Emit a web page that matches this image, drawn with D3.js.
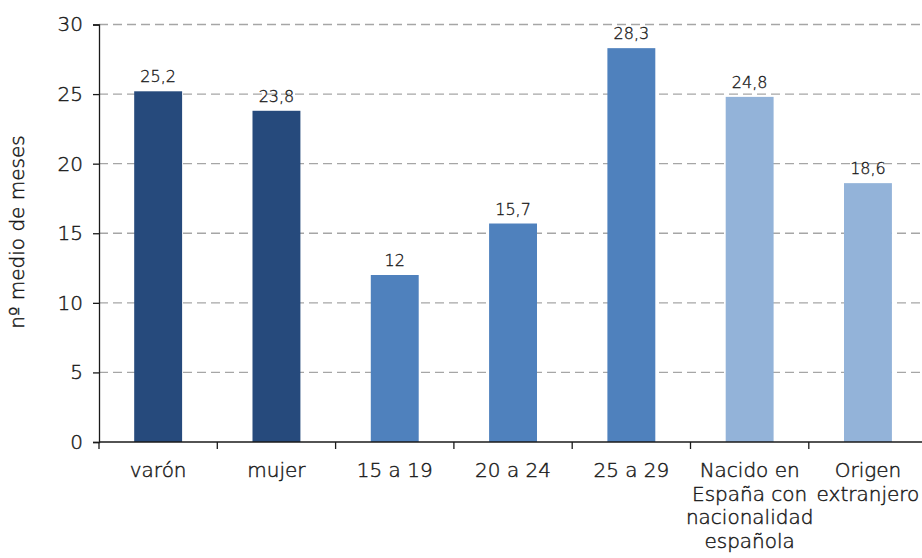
<!DOCTYPE html>
<html><head><meta charset="utf-8">
<script src="https://cdn.jsdelivr.net/npm/d3@7"></script>
<style>body{margin:0;background:#fff}svg{display:block}text{font-family:"DejaVu Sans",sans-serif;fill:#1a1a1a;font-weight:300;stroke:#1a1a1a;stroke-width:0.45px}</style>
</head><body>
<svg id="c" width="922" height="558"></svg>
<script>
const categories = [["varón"],["mujer"],["15 a 19"],["20 a 24"],["25 a 29"],["Nacido en","España con","nacionalidad","española"],["Origen","extranjero"]];
const values = [25.2, 23.8, 12, 15.7, 28.3, 24.8, 18.6];
const labels = ["25,2","23,8","12","15,7","28,3","24,8","18,6"];
const groups = ["sexo","sexo","edad","edad","edad","origen","origen"];
const yTicks = [0,5,10,15,20,25,30];
const colors = {sexo:"#264a7c", edad:"#4f81bd", origen:"#93b3d9"};

const svg = d3.select("#c");
const x0 = 99, slot = 118.3;
const x = d3.scaleBand().domain(d3.range(values.length)).range([x0, x0 + slot*values.length]).paddingInner(0.595).paddingOuter(0.2975);
const y = d3.scaleLinear().domain([0,30]).range([442,24.5]);

// gridlines
svg.append("g").selectAll("line").data(yTicks.filter(d=>d>0)).join("line")
  .attr("x1",x0).attr("x2",922).attr("y1",d=>y(d)).attr("y2",d=>y(d))
  .attr("stroke","#a6a6a6").attr("stroke-width",1.3).attr("stroke-dasharray","9,5");

// bars
svg.append("g").selectAll("rect").data(values).join("rect")
  .attr("x",(d,i)=>x(i)).attr("width",x.bandwidth())
  .attr("y",d=>y(d)).attr("height",d=>y(0)-y(d))
  .attr("fill",(d,i)=>colors[groups[i]]);

// value labels
svg.append("g").selectAll("text").data(values).join("text")
  .attr("x",(d,i)=>x(i)+x.bandwidth()/2).attr("y",d=>y(d)-9)
  .attr("text-anchor","middle").attr("font-size",16).style("stroke-width","0.35px").text((d,i)=>labels[i]);

// y axis
const ya = svg.append("g").attr("transform",`translate(${x0},0)`)
  .call(d3.axisLeft(y).tickValues(yTicks).tickSize(6).tickPadding(10).tickFormat(d=>d));
ya.select(".domain").attr("stroke","#1a1a1a").attr("stroke-width",1.3);
ya.selectAll(".tick line").attr("stroke","#1a1a1a").attr("stroke-width",1.3);
ya.selectAll(".tick text").attr("font-size",20).attr("font-family",'"DejaVu Sans",sans-serif').attr("font-weight",300).attr("fill","#1a1a1a");

// x axis line and ticks
svg.append("line").attr("x1",x0).attr("x2",922).attr("y1",y(0)).attr("y2",y(0)).attr("stroke","#1a1a1a").attr("stroke-width",1.3);
svg.append("g").selectAll("line").data(d3.range(values.length+1)).join("line")
  .attr("x1",i=>x0+i*slot).attr("x2",i=>x0+i*slot).attr("y1",y(0)).attr("y2",y(0)+7)
  .attr("stroke","#1a1a1a").attr("stroke-width",1.3);

// category labels
const cl = svg.append("g").selectAll("text").data(categories).join("text")
  .attr("text-anchor","middle").attr("font-size",20);
cl.each(function(lines,i){
  const t = d3.select(this);
  lines.forEach((s,j)=>t.append("tspan").attr("x",x(i)+x.bandwidth()/2).attr("y",477+j*23.5).text(s));
});

// y title
svg.append("text").attr("transform","translate(24,232) rotate(-90)")
  .attr("text-anchor","middle").attr("font-size",20).text("nº medio de meses");
</script>
</body></html>
